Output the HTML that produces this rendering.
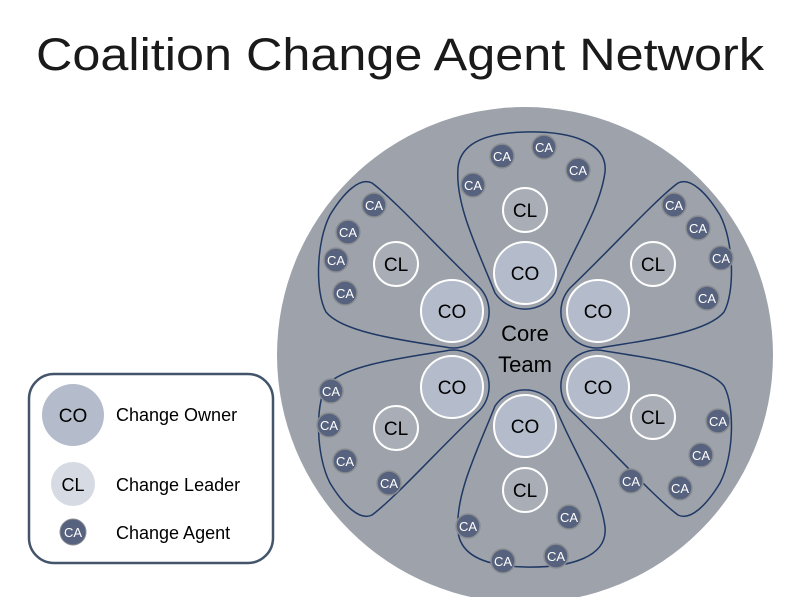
<!DOCTYPE html>
<html><head><meta charset="utf-8"><style>
html,body{margin:0;padding:0;background:#fff;}
svg{display:block;font-family:"Liberation Sans",sans-serif;}
</style></head><body>
<svg width="800" height="597" viewBox="0 0 800 597" xmlns="http://www.w3.org/2000/svg">
<text x="400" y="70" font-size="45" text-anchor="middle" textLength="728" lengthAdjust="spacingAndGlyphs" fill="#1a1a1a">Coalition Change Agent Network</text>
<circle cx="525" cy="355" r="248" fill="#9ea3ab"/>
<defs>
<path id="pt" d="M 458 168 C 455 205, 478 250, 495 293 A 36 36 0 0 0 555 293 C 572 250, 600 210, 605 172 C 608 142, 570 131, 525 132 C 482 133, 460 145, 458 168 Z"/>
<path id="pl" d="M 372 183 C 395 200, 440 250, 480 288 A 36 36 0 0 1 445 347 C 400 340, 342 332, 326 312 C 315 292, 316 242, 330 215 C 344 192, 360 177, 372 183 Z"/>
</defs>
<g fill="none" stroke="#1f3864" stroke-width="1.5">
<use href="#pt"/>
<use href="#pt" transform="translate(0,699) scale(1,-1)"/>
<use href="#pl"/>
<use href="#pl" transform="translate(1050,0) scale(-1,1)"/>
<use href="#pl" transform="translate(0,698) scale(1,-1)"/>
<use href="#pl" transform="translate(1050,698) scale(-1,-1)"/>
</g>
<g fill="#b4bccb" stroke="#fff" stroke-width="2">
<circle cx="525" cy="273" r="31"/><circle cx="452" cy="311" r="31"/><circle cx="598" cy="311" r="31"/>
<circle cx="452" cy="387" r="31"/><circle cx="598" cy="387" r="31"/><circle cx="525" cy="426" r="31"/>
</g>
<g fill="#a9adb6" stroke="#fff" stroke-width="2">
<circle cx="525" cy="210" r="22"/><circle cx="396" cy="264" r="22"/><circle cx="653" cy="264" r="22"/>
<circle cx="396" cy="428" r="22"/><circle cx="653" cy="417" r="22"/><circle cx="525" cy="490" r="22"/>
</g>
<g font-size="19" text-anchor="middle" fill="#000">
<text x="525" y="280">CO</text><text x="452" y="318">CO</text><text x="598" y="318">CO</text>
<text x="452" y="394">CO</text><text x="598" y="394">CO</text><text x="525" y="433">CO</text>
<text x="525" y="217">CL</text><text x="396" y="271">CL</text><text x="653" y="271">CL</text>
<text x="396" y="435">CL</text><text x="653" y="424">CL</text><text x="525" y="497">CL</text>
</g>
<g font-size="22" text-anchor="middle" fill="#000">
<text x="525" y="341">Core</text><text x="525" y="372">Team</text>
</g>
<g fill="#56627e" stroke="#8a8d90" stroke-width="1.5">
<circle cx="502" cy="156" r="12"/><circle cx="544" cy="147" r="12"/><circle cx="578" cy="170" r="12"/><circle cx="473" cy="185" r="12"/>
<circle cx="374" cy="205" r="12"/><circle cx="348" cy="232" r="12"/><circle cx="336" cy="260" r="12"/><circle cx="345" cy="293" r="12"/>
<circle cx="674" cy="205" r="12"/><circle cx="698" cy="228" r="12"/><circle cx="721" cy="258" r="12"/><circle cx="707" cy="298" r="12"/>
<circle cx="331" cy="391" r="12"/><circle cx="329" cy="425" r="12"/><circle cx="345" cy="461" r="12"/><circle cx="389" cy="483" r="12"/>
<circle cx="718" cy="421" r="12"/><circle cx="701" cy="455" r="12"/><circle cx="680" cy="488" r="12"/><circle cx="631" cy="481" r="12"/>
<circle cx="468" cy="526" r="12"/><circle cx="503" cy="561" r="12"/><circle cx="556" cy="556" r="12"/><circle cx="569" cy="517" r="12"/>
</g>
<g font-size="13" text-anchor="middle" fill="#fff">
<text x="502" y="161">CA</text><text x="544" y="152">CA</text><text x="578" y="175">CA</text><text x="473" y="190">CA</text>
<text x="374" y="210">CA</text><text x="348" y="237">CA</text><text x="336" y="265">CA</text><text x="345" y="298">CA</text>
<text x="674" y="210">CA</text><text x="698" y="233">CA</text><text x="721" y="263">CA</text><text x="707" y="303">CA</text>
<text x="331" y="396">CA</text><text x="329" y="430">CA</text><text x="345" y="466">CA</text><text x="389" y="488">CA</text>
<text x="718" y="426">CA</text><text x="701" y="460">CA</text><text x="680" y="493">CA</text><text x="631" y="486">CA</text>
<text x="468" y="531">CA</text><text x="503" y="566">CA</text><text x="556" y="561">CA</text><text x="569" y="522">CA</text>
</g>
<rect x="29" y="374" width="244" height="189" rx="25" fill="#fff" stroke="#44546a" stroke-width="2.5"/>
<circle cx="73" cy="415" r="31" fill="#b4bccb"/>
<circle cx="73" cy="484" r="22" fill="#d6dae3"/>
<circle cx="73" cy="532" r="13" fill="#56627e" stroke="#8a8d90" stroke-width="1"/>
<text x="73" y="422" font-size="19" text-anchor="middle">CO</text>
<text x="73" y="491" font-size="18" text-anchor="middle">CL</text>
<text x="73" y="537" font-size="13" text-anchor="middle" fill="#fff">CA</text>
<g font-size="18" fill="#000">
<text x="116" y="421">Change Owner</text>
<text x="116" y="491">Change Leader</text>
<text x="116" y="539">Change Agent</text>
</g>
</svg>
</body></html>
